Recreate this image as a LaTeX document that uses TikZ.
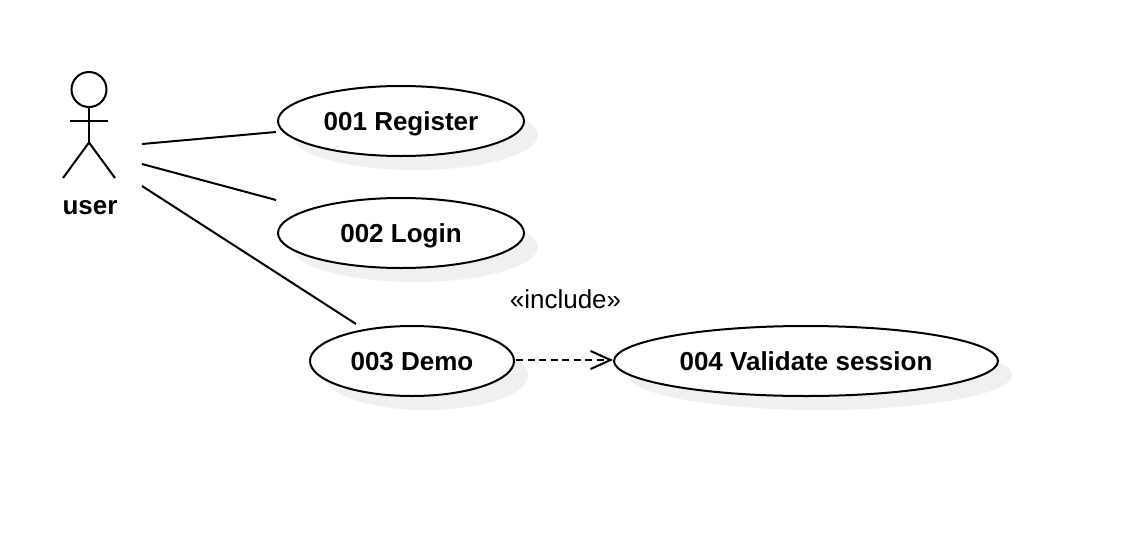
\documentclass[tikz,border=0pt]{standalone}
\usepackage{fontspec}
\setmainfont{Liberation Sans}
\usetikzlibrary{shapes.geometric,shadows,arrows.meta}
\tikzset{
  line/.style={draw=black,line width=2pt},
  usecase/.style={ellipse,draw=black,line width=2pt,fill=white,inner sep=0pt,
    minimum width=#1,minimum height=70pt,text height=18.6pt,text depth=0pt,
    font=\fontsize{26}{30}\selectfont\bfseries,
    drop shadow={shadow xshift=14pt,shadow yshift=-14pt,fill=black!6,opacity=1}},
  actorlabel/.style={font=\fontsize{26}{30}\selectfont\bfseries,inner sep=0pt,text height=14pt,text depth=0pt},
  stereo/.style={font=\fontsize{26}{30}\selectfont,inner sep=0pt},
  include/.style={line,dash pattern=on 7pt off 4.5pt,-{Straight Barb[length=20pt,width=18pt,line width=2pt]}}
}
\begin{document}
\begin{tikzpicture}[x=1pt,y=-1pt]
\useasboundingbox (0,0) rectangle (1142,546);
% use cases
\node[usecase=246pt] (uc1) at (401,121) {001 Register};
\node[usecase=246pt] (uc2) at (401,233) {002 Login};
\node[usecase=204pt] (uc3) at (412,361) {003 Demo};
\node[usecase=384pt] (uc4) at (806,361) {004 Validate session};
% actor
\node[circle,line,minimum size=35pt,inner sep=0pt] (head) at (89,89.5) {};
\coordinate (hip) at (89,142.5);
\coordinate (armL) at (70,120.5);
\coordinate (armR) at (108,120.5);
\coordinate (legL) at (63,178);
\coordinate (legR) at (115,178);
\draw[line] (head.south) -- (hip);
\draw[line] (armL) -- (armR);
\draw[line] (legL) -- (hip) -- (legR);
\node[actorlabel] (user) at (90,207) {user};
% associations
\coordinate (a1) at (142,144);
\coordinate (b1) at (276,132);
\coordinate (a2) at (142,164);
\coordinate (b2) at (276,200);
\coordinate (a3) at (142,186);
\coordinate (b3) at (356,324);
\draw[line] (a1) -- (b1);
\draw[line] (a2) -- (b2);
\draw[line] (a3) -- (b3);
% include
\coordinate (c1) at (516,360);
\coordinate (c2) at (613,360);
\draw[include] (c1) -- (c2);
\node[stereo] (inc) at (565.5,299) {«include»};
\end{tikzpicture}
\end{document}
